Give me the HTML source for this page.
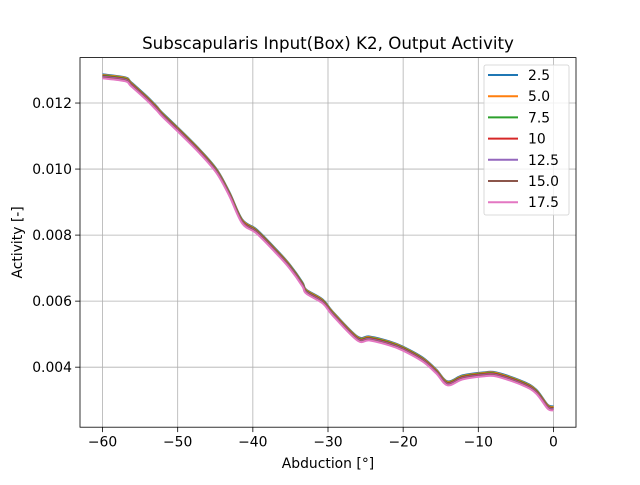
<!DOCTYPE html>
<html><head><meta charset="utf-8"><style>
body{margin:0;background:#fff}
svg{font-family:"DejaVu Sans","Liberation Sans",sans-serif}
</style></head><body>
<svg id="chart" width="640" height="480" xmlns="http://www.w3.org/2000/svg"></svg>
<script>
const xValues=[-60,-57,-56.2,-54.1,-52.8,-52.1,-50,-47.1,-44.8,-43.1,-41.4,-39.5,-36.9,-35.1,-33.4,-32.9,-30.7,-29.4,-26.1,-24.5,-21.8,-20.1,-17.4,-15.6,-14.1,-12.1,-9.4,-7.6,-4.1,-2.3,-0.8,0];
const baseActivity=[0.01285,0.01276,0.01261,0.01218,0.01188,0.01170,0.01124,0.01058,0.00997,0.00927,0.00845,0.00815,0.00755,0.00709,0.00655,0.00633,0.00603,0.00567,0.00491,0.00491,0.00476,0.00461,0.00427,0.00391,0.00355,0.00373,0.00382,0.00382,0.00355,0.00330,0.00285,0.00279];
const seriesLabels=["2.5","5.0","7.5","10","12.5","15.0","17.5"];
const seriesOffsets=[0.00002,0,-0.00002,-0.00004,-0.00006,-0.00008,-0.0001];
const colors=["#1f77b4","#ff7f0e","#2ca02c","#d62728","#9467bd","#8c564b","#e377c2"];
const xTicks=[-60,-50,-40,-30,-20,-10,0];
const yTicks=[0.004,0.006,0.008,0.010,0.012];

const NS="http://www.w3.org/2000/svg";
const svg=document.getElementById('chart');
const L=80,R=576,T=57.6,B=427.2;
const xmin=-63,xmax=3,ymin=0.002182,ymax=0.013376;
const sx=v=>L+(v-xmin)/(xmax-xmin)*(R-L);
const sy=v=>B-(v-ymin)/(ymax-ymin)*(B-T);
function mk(tag,attrs,parent){const e=document.createElementNS(NS,tag);for(const k in attrs)e.setAttribute(k,attrs[k]);(parent||svg).appendChild(e);return e;}

const grid=mk('g',{});


xTicks.forEach(t=>{
  const l=mk('line',{x1:sx(t),x2:sx(t),y1:T,y2:B,stroke:'#b0b0b0','stroke-width':0.8},grid);
  
  
  const tk=mk('line',{x1:sx(t),x2:sx(t),y1:B,y2:B+4.9,stroke:'#000','stroke-width':0.8});
  
  
  const tx=mk('text',{x:sx(t),y:B+19.5,'text-anchor':'middle','font-size':13.9});
  tx.textContent=(t<0?'\u2212'+(-t):t);
  
  
});
yTicks.forEach(t=>{
  const l=mk('line',{x1:L,x2:R,y1:sy(t),y2:sy(t),stroke:'#b0b0b0','stroke-width':0.8},grid);
  
  
  const tk=mk('line',{x1:L-4.9,x2:L,y1:sy(t),y2:sy(t),stroke:'#000','stroke-width':0.8});
  
  
  const tx=mk('text',{x:L-8,y:sy(t)+5,'text-anchor':'end','font-size':13.9});
  tx.textContent=t.toFixed(3);
  
  
});

function smoothPath(pts){
  let d='M'+pts[0][0].toFixed(1)+','+pts[0][1].toFixed(1);
  for(let i=0;i<pts.length-1;i++){
    const p0=pts[Math.max(0,i-1)],p1=pts[i],p2=pts[i+1],p3=pts[Math.min(pts.length-1,i+2)];
    const c1x=p1[0]+(p2[0]-p0[0])/6,c1y=p1[1]+(p2[1]-p0[1])/6;
    const c2x=p2[0]-(p3[0]-p1[0])/6,c2y=p2[1]-(p3[1]-p1[1])/6;
    d+=' C'+c1x.toFixed(1)+','+c1y.toFixed(1)+' '+c2x.toFixed(1)+','+c2y.toFixed(1)+' '+p2[0].toFixed(1)+','+p2[1].toFixed(1);
  }
  return d;
}
seriesLabels.forEach((lab,k)=>{
  const pts=xValues.map((x,i)=>[sx(x),sy(baseActivity[i]+seriesOffsets[k])]);
  const p=mk('path',{d:smoothPath(pts),fill:'none',stroke:colors[k],'stroke-width':2,'stroke-linejoin':'round'});
  
  
});

const frame=mk('rect',{x:L,y:T,width:R-L,height:B-T,fill:'none',stroke:'#000','stroke-width':0.8});



const title=mk('text',{x:(L+R)/2,y:49,'text-anchor':'middle','font-size':16.7});
title.textContent='Subscapularis Input(Box) K2, Output Activity';


const xl=mk('text',{x:(L+R)/2,y:468,'text-anchor':'middle','font-size':13.9});
xl.textContent='Abduction [°]';


const yl=mk('text',{x:0,y:0,'text-anchor':'middle','font-size':13.9,transform:'translate(22,'+((T+B)/2)+') rotate(-90)'});
yl.textContent='Activity [-]';



const lg=mk('g',{});


mk('rect',{x:484,y:65,width:85,height:150,rx:2,fill:'#fff','fill-opacity':0.8,stroke:'#d0d0d0','stroke-width':0.8},lg);
seriesLabels.forEach((lab,k)=>{
  const y=75+k*21.2;
  const e=mk('g',{},lg);
  
  
  mk('line',{x1:488,x2:518,y1:y,y2:y,stroke:colors[k],'stroke-width':2},e);
  const t=mk('text',{x:528,y:y+5,'font-size':13.9},e);
  t.textContent=lab;
});
</script>
</body></html>
